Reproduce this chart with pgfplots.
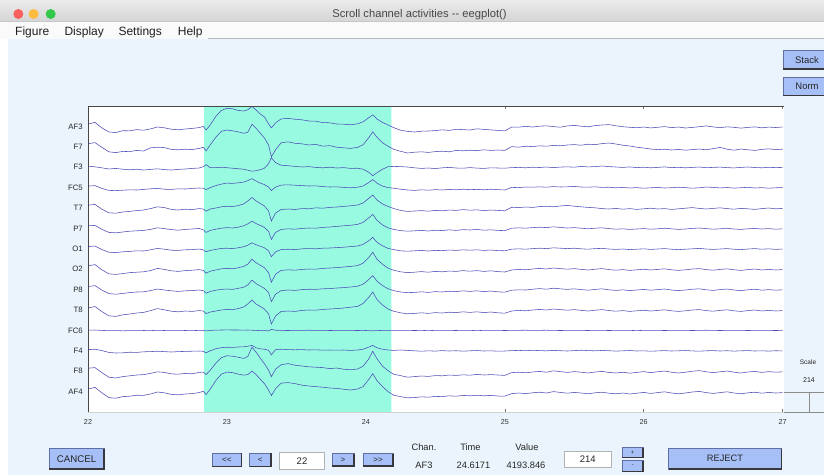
\documentclass[border=0pt]{standalone}
\usepackage{fontspec}
\setmainfont{Liberation Sans}
\usepackage{pgfplots}
\usepackage{pgfplotstable}
\pgfplotsset{compat=1.18}

\definecolor{figbg}{RGB}{235,244,253}
\definecolor{tbtop}{RGB}{236,235,236}
\definecolor{tbbot}{RGB}{213,212,213}
\definecolor{menubg}{RGB}{250,250,250}
\definecolor{hlc}{RGB}{152,250,225}
\definecolor{trc}{RGB}{78,74,182}
\definecolor{btnc}{RGB}{166,191,247}
\definecolor{btnb}{RGB}{95,110,165}
\definecolor{btns}{RGB}{55,55,60}
\definecolor{tlred}{RGB}{252,96,92}
\definecolor{tlyel}{RGB}{253,188,64}
\definecolor{tlgrn}{RGB}{52,200,74}

% channel offsets in screen pixels (positive = up), one row per channel
\pgfplotstableread[header=false]{
t 22.00 22.05 22.10 22.15 22.20 22.25 22.30 22.35 22.40 22.45 22.50 22.55 22.60 22.65 22.70 22.75 22.80 22.83 22.85 22.88 22.92 22.96 23.00 23.04 23.08 23.12 23.15 23.18 23.21 23.24 23.27 23.30 23.32 23.35 23.39 23.44 23.49 23.54 23.59 23.64 23.69 23.74 23.79 23.84 23.89 23.94 23.98 24.02 24.05 24.08 24.12 24.16 24.20 24.25 24.30 24.35 24.40 24.45 24.50 24.55 24.60 24.65 24.70 24.75 24.80 24.85 24.90 24.95 25.00 25.05 25.10 25.15 25.20 25.25 25.30 25.35 25.40 25.45 25.50 25.55 25.60 25.65 25.70 25.75 25.80 25.85 25.90 25.95 26.00 26.05 26.10 26.15 26.20 26.25 26.30 26.35 26.40 26.45 26.50 26.55 26.60 26.65 26.70 26.75 26.80 26.85 26.90 26.95 27.00
AF3 2.4 4.0 -1.5 -5.5 -6.2 -4.3 -4.4 -3.2 -3.8 -2.5 -0.6 -1.4 -2.8 -3.4 -2.6 -2.0 -1.2 0.0 -3.6 1.4 10.0 16.0 18.2 17.6 16.0 15.4 16.6 20.0 16.4 12.5 9.5 2.5 -1.5 3.5 7.5 8.0 7.2 6.6 5.4 5.2 3.8 3.6 2.4 2.2 1.6 2.6 4.6 8.6 11.5 7.4 4.0 1.4 -1.2 -3.8 -5.0 -5.6 -4.8 -4.6 -4.2 -3.4 -4.0 -2.9 -3.2 -3.6 -2.4 -3.0 -3.5 -4.0 -4.5 -0.6 -0.8 0.1 -0.6 0.2 0.6 -0.2 -0.8 0.5 1.0 0.2 -0.4 0.8 1.4 1.8 0.6 -0.3 -0.9 -1.3 -0.6 -1.5 -0.9 -0.2 -1.2 -0.6 -1.6 -1.0 -0.3 0.5 -0.5 -1.3 -0.4 -0.9 -1.7 -1.0 -0.5 -1.4 -0.7 -1.1 -0.6
F7 3.0 4.2 -0.5 -5.0 -5.8 -4.6 -4.8 -3.6 -4.2 -1.0 -0.4 -0.8 -2.6 -3.0 -2.4 -2.8 -1.6 -0.5 -4.0 2.0 9.5 15.5 16.8 16.0 15.0 13.5 14.5 22.5 18.5 13.8 8.8 1.8 -10.0 -3.0 4.0 5.0 3.5 3.0 1.8 2.5 0.6 1.2 -0.4 -1.0 -1.6 -0.6 2.0 9.0 15.0 9.5 4.0 0.5 -2.5 -4.5 -6.2 -5.4 -5.0 -5.6 -4.8 -4.4 -5.0 -3.6 -4.0 -3.4 -3.8 -3.0 -3.6 -3.2 -3.6 0.2 -0.4 0.6 0.2 1.0 0.6 1.4 1.0 1.8 2.2 1.6 2.6 2.2 3.2 3.8 2.8 1.6 0.8 -0.4 -1.2 -2.2 -2.8 -2.4 -3.2 -2.6 -3.4 -2.8 -2.2 -3.0 -1.8 -0.6 -2.4 -3.4 -2.2 -3.0 -3.6 -2.6 -2.0 -2.8 -2.4
F3 1.0 0.4 -0.6 -1.8 -1.2 -2.0 -2.6 -2.0 -2.8 -2.2 -1.6 -2.4 -2.8 -2.2 -1.8 -1.2 -0.8 0.5 2.5 -0.5 -0.5 0.0 -0.5 -1.0 -1.5 -2.0 -3.0 -4.0 -3.5 -2.5 -1.0 3.5 9.5 4.5 2.0 1.5 0.8 0.2 0.6 -0.2 -0.6 0.0 -0.8 -0.4 -1.2 -1.0 -2.0 -5.0 -8.5 -5.5 -2.0 0.5 0.8 0.6 0.2 -0.6 -1.2 -0.8 -1.4 -0.6 -0.2 -0.8 -1.0 -0.4 -0.9 -1.2 -0.6 -0.8 -1.0 -0.4 -0.2 -0.6 0.0 -0.3 0.2 -0.4 0.1 0.4 0.0 0.8 0.3 0.6 1.2 0.6 0.2 -0.2 0.3 -0.4 0.0 -0.6 -0.2 0.3 -0.4 -0.1 -0.6 -0.2 0.2 -0.5 -0.2 0.1 -0.4 -0.7 -0.2 0.2 -0.3 -0.6 -0.1 -0.4 -0.2
FC5 1.5 2.0 -0.8 -2.8 -3.0 -2.6 -2.2 -2.4 -1.8 -1.2 -0.8 -1.6 -1.8 -1.2 -1.4 -0.8 -0.4 -0.5 -2.0 0.0 2.0 3.5 4.5 4.2 4.8 5.5 7.0 9.0 6.5 4.5 3.0 0.5 -3.0 0.5 2.5 2.8 2.4 2.0 1.6 1.8 1.0 0.6 0.8 0.2 -0.2 0.4 1.6 5.0 8.0 4.5 1.5 0.0 -0.6 -1.6 -2.4 -2.8 -2.2 -2.6 -2.0 -2.4 -1.8 -2.2 -1.6 -2.0 -1.8 -2.2 -1.6 -2.0 -2.4 0.2 0.0 0.6 0.4 0.8 0.4 1.0 0.6 0.8 1.2 0.6 0.4 0.8 0.2 0.4 -0.2 0.2 -0.4 0.0 -0.6 -0.2 0.2 -0.4 -0.1 0.4 0.0 -0.6 -0.2 0.6 0.2 -0.3 0.1 -0.5 -0.1 0.3 -0.4 0.0 -0.6 -0.2 0.1
T7 2.8 3.6 -1.2 -4.8 -5.2 -4.0 -3.4 -2.6 -2.0 -0.6 1.2 0.4 -1.4 -2.0 -1.2 -1.6 -0.6 -1.0 -3.2 -1.0 0.0 1.2 1.8 1.4 2.4 4.0 7.0 10.5 7.0 4.5 2.0 -3.0 -13.0 -5.0 -1.5 -1.0 -1.5 -0.6 -0.8 0.2 -0.2 0.6 1.0 1.6 2.2 3.0 5.0 9.5 13.0 8.0 4.0 1.5 -0.5 -2.4 -3.4 -3.0 -2.6 -3.2 -2.4 -2.8 -2.0 -2.4 -1.6 -2.2 -1.8 -2.6 -2.0 -2.4 -2.8 0.8 0.4 1.0 0.6 1.4 1.8 1.2 2.0 2.6 1.8 1.2 0.6 0.2 -0.6 -1.0 -0.4 -1.2 -0.6 -1.4 -0.8 -0.2 -1.0 -0.6 -1.4 -0.8 -0.2 0.4 -0.4 -1.0 -0.4 0.2 -0.6 -1.2 -0.4 -0.8 -1.4 -0.6 0.0 -0.8 -0.4
P7 2.6 3.0 -1.0 -4.0 -4.4 -3.6 -2.8 -2.4 -2.0 -1.0 0.6 -0.2 -1.2 -1.8 -1.0 -0.6 0.0 -1.5 -4.0 -2.0 -0.8 0.2 0.8 0.4 1.2 2.6 4.5 7.2 4.8 3.0 1.0 -3.0 -11.0 -4.0 -1.0 -0.4 -0.8 0.0 0.4 0.2 1.0 1.4 2.0 2.6 3.2 4.0 6.0 10.5 14.0 8.0 3.5 0.5 -1.0 -2.2 -2.8 -2.4 -2.0 -2.6 -1.8 -2.2 -1.4 -2.0 -1.2 -1.6 -1.0 -1.8 -1.4 -2.0 -2.2 0.2 0.6 0.2 0.8 1.2 0.8 1.6 1.0 0.4 0.8 0.2 -0.4 0.2 0.6 -0.2 -0.8 -0.4 -1.0 -0.6 -0.2 -0.8 -0.4 0.2 -0.4 -1.0 -0.6 0.0 0.4 -0.2 -0.8 -0.4 0.2 -0.6 -1.0 -0.4 0.0 -0.6 -0.2 -0.8 -0.4
O1 2.2 2.8 -0.8 -3.4 -3.8 -3.0 -2.6 -2.0 -2.2 -1.0 0.4 -0.4 -1.4 -1.6 -1.0 -0.8 -0.2 -1.0 -3.0 -1.6 -0.6 0.4 0.6 0.2 1.0 2.0 3.6 6.0 4.0 2.6 1.0 -2.0 -8.0 -3.0 -0.8 -0.4 -0.8 0.0 0.2 0.0 0.6 0.8 1.2 1.6 2.2 2.8 4.4 8.0 11.5 6.5 3.0 0.4 -0.8 -2.0 -2.4 -2.0 -1.6 -2.2 -1.6 -1.8 -1.2 -1.6 -1.0 -1.4 -1.0 -1.6 -1.2 -1.8 -2.0 -0.4 0.0 -0.4 0.2 0.6 0.2 1.0 0.6 0.2 0.6 0.0 -0.4 0.2 0.4 -0.2 -0.6 -0.2 -0.8 -0.4 0.0 -0.6 -0.2 0.2 -0.4 -0.8 -0.4 0.0 0.4 -0.2 -0.6 -0.2 0.2 -0.4 -0.8 -0.2 0.2 -0.4 0.0 -0.6 -0.2
O2 3.4 4.6 -0.6 -4.6 -5.2 -4.4 -3.4 -3.0 -2.6 -1.4 0.8 -0.2 -1.6 -2.2 -1.4 -1.0 -0.4 -1.2 -4.0 -2.0 -0.8 0.4 0.8 0.4 1.4 2.8 5.0 10.0 6.5 4.0 1.5 -3.5 -13.0 -5.0 -1.2 -0.6 -1.0 -0.2 0.2 0.0 0.8 1.2 1.6 2.2 2.8 3.6 6.0 11.5 17.0 10.0 5.0 1.0 -1.0 -2.6 -3.4 -3.0 -2.4 -3.0 -2.2 -2.6 -1.8 -2.2 -1.4 -2.0 -1.4 -2.2 -1.6 -2.4 -2.8 -0.8 -0.2 -0.6 0.2 0.8 0.2 1.2 0.6 0.0 0.6 -0.2 -0.8 0.0 0.6 -0.4 -1.0 -0.4 -1.2 -0.6 0.0 -0.8 -0.2 0.4 -0.6 -1.2 -0.6 0.2 0.6 -0.4 -1.0 -0.2 0.4 -0.6 -1.2 -0.4 0.2 -0.8 -0.2 -0.8 -0.4
P8 3.0 4.0 -0.4 -4.0 -4.6 -3.8 -3.0 -2.4 -2.2 -1.0 0.6 -0.4 -1.2 -1.8 -1.2 -1.0 -0.4 -1.0 -3.6 -1.8 -0.6 0.2 0.6 0.2 1.2 2.4 4.6 9.5 6.0 3.6 1.2 -3.0 -12.0 -4.5 -1.0 -0.4 -0.8 0.0 0.4 0.2 0.8 1.0 1.6 2.0 2.6 3.4 5.4 10.0 14.0 8.5 4.0 0.8 -1.0 -2.4 -3.0 -2.8 -2.2 -2.8 -2.0 -2.4 -1.6 -2.0 -1.2 -1.8 -1.2 -2.0 -1.4 -2.2 -2.6 -0.6 -0.2 -0.4 0.4 1.0 0.4 1.4 0.8 0.2 0.8 0.0 -0.6 0.2 0.8 -0.2 -0.8 -0.2 -1.0 -0.4 0.2 -0.6 0.0 0.6 -0.4 -1.0 -0.4 0.4 0.8 -0.2 -0.8 0.0 0.6 -0.4 -1.0 -0.2 0.4 -0.6 0.0 -0.6 -0.2
T8 2.0 3.5 -1.6 -5.8 -6.4 -4.8 -4.0 -3.0 -2.4 -0.6 1.4 0.2 -1.2 -1.8 -1.0 -1.4 -0.6 -1.0 -3.6 -2.0 -1.0 0.0 0.6 0.2 1.4 3.0 6.0 10.0 6.0 3.5 1.0 -4.0 -14.0 -6.0 -1.5 -1.0 -1.4 -0.4 0.0 -0.2 0.6 1.0 1.4 2.0 2.8 3.6 6.5 12.5 18.0 10.5 5.0 1.0 -1.2 -2.8 -3.8 -3.4 -2.8 -3.4 -2.6 -3.0 -2.2 -2.6 -1.8 -2.4 -1.8 -2.6 -2.0 -2.8 -3.2 -1.0 -0.4 -0.8 0.0 0.6 0.0 1.0 0.4 -0.2 0.4 -0.4 -1.0 -0.2 0.4 -0.6 -1.2 -0.6 -1.4 -0.8 -0.2 -1.0 -0.4 0.2 -0.8 -1.4 -0.8 0.0 0.4 -0.6 -1.2 -0.4 0.2 -0.8 -1.4 -0.6 0.0 -1.0 -0.4 -1.0 -0.6
FC6 0.2 0.4 0.0 -0.3 -0.2 -0.4 -0.2 -0.3 -0.1 -0.2 0.1 -0.1 -0.3 -0.2 -0.1 -0.2 0.0 0.0 -0.5 0.0 0.3 0.4 0.5 0.4 0.4 0.3 0.4 0.2 0.0 -0.2 -0.3 -0.4 1.0 0.2 0.0 -0.1 0.1 0.0 0.2 0.0 0.1 -0.1 0.0 0.1 0.0 -0.1 0.0 -0.2 -0.4 -0.2 0.0 0.1 0.0 0.1 0.0 -0.1 0.0 -0.2 0.0 0.1 0.0 -0.1 0.1 0.0 -0.2 0.0 0.1 0.0 -0.1 0.0 0.1 0.2 0.0 0.1 0.2 0.0 -0.1 0.0 0.1 0.0 -0.1 0.1 0.0 -0.1 0.0 0.1 0.0 -0.2 0.0 0.1 0.0 -0.1 0.0 0.1 0.0 -0.1 0.0 0.2 0.0 -0.1 0.0 0.1 0.0 -0.1 0.0 0.1 0.0 -0.1 0.0
F4 1.2 1.6 0.2 -1.6 -2.2 -2.0 -1.4 -1.6 -1.0 -0.8 -0.4 -0.8 -1.2 -0.8 -0.6 -0.4 -0.2 -0.5 -2.0 0.0 2.0 3.2 3.6 3.4 3.8 4.0 4.6 5.4 3.0 2.0 1.6 0.6 -4.0 1.2 1.6 1.2 1.0 1.2 0.8 1.0 0.6 0.8 0.6 0.8 0.4 0.8 1.6 3.6 5.4 3.0 1.6 0.8 0.4 0.8 0.4 0.0 -0.4 0.0 -0.3 0.2 -0.2 0.1 -0.4 0.0 0.3 -0.2 0.0 -0.4 -0.2 0.2 0.4 0.1 0.5 0.2 0.0 0.4 0.1 -0.2 0.2 0.6 0.2 0.0 0.4 0.1 -0.3 0.0 0.3 -0.2 0.0 -0.4 -0.1 0.2 -0.2 0.0 0.3 -0.1 -0.4 0.0 0.2 -0.2 0.1 -0.3 0.0 0.2 -0.2 0.0 -0.3 0.1 -0.1
F8 3.0 3.6 -1.4 -6.0 -6.8 -5.4 -4.6 -3.8 -3.4 -2.2 -0.6 -1.2 -2.6 -3.0 -2.2 -2.6 -1.2 -0.8 -3.4 1.0 8.0 13.5 15.5 15.0 14.0 12.8 14.6 24.0 19.0 13.0 7.5 1.0 -5.5 2.0 6.5 7.6 6.0 5.2 4.4 4.0 3.6 2.6 3.2 2.0 1.4 2.2 5.0 12.0 20.0 12.5 5.0 0.5 -3.0 -4.4 -6.0 -5.4 -4.8 -5.2 -4.4 -4.6 -3.8 -4.2 -3.6 -4.0 -3.2 -3.8 -3.4 -3.8 -4.2 -1.4 -1.0 -1.6 -0.8 -0.2 -1.0 0.4 -0.4 -1.2 -0.4 -1.0 -1.8 -0.8 -0.2 -1.2 -1.8 -1.0 -2.0 -1.2 -0.4 -1.4 -0.6 0.2 -1.0 -1.8 -1.0 0.0 0.6 -0.6 -1.4 -0.6 0.2 -1.0 -1.8 -0.8 -0.2 -1.2 -0.4 -1.0 -0.6
AF4 2.6 4.2 -1.2 -6.0 -6.6 -5.0 -4.6 -3.6 -3.8 -2.4 -0.4 -1.2 -2.8 -3.2 -2.4 -2.0 -1.0 0.4 -3.0 2.5 11.0 17.5 19.5 19.0 17.5 16.5 17.0 20.5 17.0 12.5 8.0 1.5 -4.0 3.0 8.5 9.0 8.0 6.4 5.6 5.0 4.4 3.6 3.2 2.4 1.6 2.6 5.0 12.0 18.0 11.0 5.0 0.0 -3.6 -5.0 -6.2 -6.0 -5.2 -5.6 -4.8 -5.0 -4.2 -4.6 -3.8 -4.2 -3.6 -4.2 -3.8 -4.4 -4.6 -2.0 -1.4 -2.0 -1.2 -0.6 -1.4 0.0 -0.8 -1.6 -0.8 -1.4 -2.2 -1.2 -0.6 -1.6 -2.2 -1.4 -2.4 -1.6 -0.8 -1.8 -1.0 -0.2 -1.4 -2.2 -1.4 -0.4 0.2 -1.0 -1.8 -1.0 -0.2 -1.4 -2.2 -1.2 -0.6 -1.6 -0.8 -1.4 -1.0
}\eegraw
\pgfplotstabletranspose[colnames from=0]{\eeg}{\eegraw}

\newcommand\uibtn[6]{%
  \fill[btnc] (#1,#2) rectangle (#3,#4);
  \draw[btnb, line width=0.6pt] (#1,#2) rectangle (#3,#4);
  \draw[btns, line width=1.2pt] (#1,#4) -- (#3,#4) -- (#3,#2);
  \node[inner sep=0pt, font=\fontsize{#5}{#5}\selectfont, text=black!85] at ({(#1+#3)/2},{(#2+#4)/2}) {#6};}
\newcommand\uitxt[5]{%
  \fill[white] (#1,#2) rectangle (#3,#4);
  \draw[black!30, line width=0.5pt] (#1,#2) rectangle (#3,#4);
  \node[inner sep=0pt, font=\fontsize{9.5}{9.5}\selectfont, text=black!85] at ({(#1+#3)/2},{(#2+#4)/2}) {#5};}

\begin{document}
\begin{tikzpicture}
\useasboundingbox (0pt,0pt) rectangle (824pt,-475pt);
\begin{scope}[x=1pt,y=-1pt]
  \clip (0,0) rectangle (824,475);
  \fill[figbg] (0,0) rectangle (824,475);
  \fill[white] (0,38.5) rectangle (8.3,475);
  % title bar
  \shade[top color=tbtop, bottom color=tbbot] (0,0) rectangle (824,21.7);
  \draw[black!22, line width=0.5pt] (0,21.7) -- (824,21.7);
  \fill[tlred] (18.3,14) circle[radius=5pt];
  \fill[tlyel] (33.6,14) circle[radius=5pt];
  \fill[tlgrn] (50.7,14) circle[radius=5pt];
  \node[anchor=base, inner sep=0pt, font=\fontsize{11.2}{13}\selectfont, text=black!72] at (419.5,17.7) {Scroll channel activities -{}- eegplot()};
  % menu bar
  \fill[menubg] (0,22) rectangle (824,38.5);
  \draw[black!28, line width=0.7pt] (208,38.5) -- (824,38.5);
  \begin{scope}[every node/.style={anchor=base west, inner sep=0pt, font=\fontsize{12}{14}\selectfont, text=black!88}]
    \node at (15,35.5) {Figure};
    \node at (64.3,35.5) {Display};
    \node at (118.3,35.5) {Settings};
    \node at (177.7,35.5) {Help};
  \end{scope}
\end{scope}

\begin{axis}[name=ax, at={(88pt,-412pt)}, anchor=south west,
  width=696pt, height=306pt, scale only axis,
  xmin=22, xmax=27.01, ymin=0, ymax=15,
  axis background/.style={fill=white},
  separate axis lines, axis line style={draw=none},
  xtick={22,23,24,25,26,27}, xticklabels={22,23,24,25,26,27},
  ytick={1,...,14},
  yticklabels={AF4,F8,F4,FC6,T8,P8,O2,O1,P7,T7,FC5,F3,F7,AF3},
  tick align=inside, major tick length=3pt,
  xtick style={draw=black!55, line width=0.5pt},
  ytick style={draw=none},
  xticklabel style={font=\fontsize{7.2}{8}\selectfont, text=black!80, inner sep=0pt, yshift=-7pt},
  yticklabel style={font=\fontsize{7.8}{9}\selectfont, text=black!85, inner sep=0pt, xshift=-5pt},
  /pgf/number format/assume math mode=true,
  every axis plot/.append style={line width=0.55pt},
]
\addplot[draw=none, fill=hlc] coordinates {(22.835,0) (22.835,15) (24.183,15) (24.183,0)} \closedcycle;
\addplot[trc] table[x=t, y expr=\thisrow{AF3}/20.4+14] {\eeg};
\addplot[trc] table[x=t, y expr=\thisrow{F7}/20.4+13] {\eeg};
\addplot[trc] table[x=t, y expr=\thisrow{F3}/20.4+12] {\eeg};
\addplot[trc] table[x=t, y expr=\thisrow{FC5}/20.4+11] {\eeg};
\addplot[trc] table[x=t, y expr=\thisrow{T7}/20.4+10] {\eeg};
\addplot[trc] table[x=t, y expr=\thisrow{P7}/20.4+9] {\eeg};
\addplot[trc] table[x=t, y expr=\thisrow{O1}/20.4+8] {\eeg};
\addplot[trc] table[x=t, y expr=\thisrow{O2}/20.4+7] {\eeg};
\addplot[trc] table[x=t, y expr=\thisrow{P8}/20.4+6] {\eeg};
\addplot[trc] table[x=t, y expr=\thisrow{T8}/20.4+5] {\eeg};
\addplot[trc] table[x=t, y expr=\thisrow{FC6}/20.4+4] {\eeg};
\addplot[trc] table[x=t, y expr=\thisrow{F4}/20.4+3] {\eeg};
\addplot[trc] table[x=t, y expr=\thisrow{F8}/20.4+2] {\eeg};
\addplot[trc] table[x=t, y expr=\thisrow{AF4}/20.4+1] {\eeg};
\end{axis}
\draw[black!72, line width=0.9pt] (ax.south west) -- (ax.north west) -- (ax.north east);
\draw[black!18, line width=0.6pt] (ax.south west) -- (ax.south east);

\begin{scope}[x=1pt,y=-1pt]
  % right-hand buttons
  \uibtn{783}{50.5}{831}{69}{9.5}{Stack}
  \uibtn{783}{77}{831}{95.5}{9.5}{Norm}
  % scale
  \node[inner sep=0pt, font=\fontsize{6.5}{7}\selectfont, text=black!85] at (808,362) {Scale};
  \node[inner sep=0pt, font=\fontsize{7}{8}\selectfont, text=black!85] at (809,380) {214};
  \draw[black!45, line width=0.7pt] (784,392.7) -- (824,392.7);
  \draw[black!45, line width=0.7pt] (809,392.7) -- (809,412.7);
  \draw[black!45, line width=0.7pt] (784,412.7) -- (824,412.7);
  % bottom controls
  \uibtn{49}{448.5}{104}{469}{9.7}{CANCEL}
  \uibtn{212}{453}{241.5}{466.5}{8}{<{}<}
  \uibtn{249.5}{453}{271}{466.5}{8}{<}
  \uitxt{279.5}{452.5}{324.5}{469}{22}
  \uibtn{332}{453.5}{354}{466}{8}{>}
  \uibtn{363}{453.5}{393}{466}{8}{>{}>}
  \begin{scope}[every node/.style={anchor=base, inner sep=0pt, font=\fontsize{9.3}{10}\selectfont, text=black!85}]
    \node at (424,450.5) {Chan.};
    \node at (424,468.5) {AF3};
    \node at (470.5,450.5) {Time};
    \node at (473.5,468.5) {24.6171};
    \node at (527,450.5) {Value};
    \node at (526,468.5) {4193.846};
  \end{scope}
  \uitxt{564.5}{451}{611}{467.5}{214}
  \uibtn{622}{447.5}{643}{457.5}{6}{+}
  \uibtn{622}{460.5}{643}{471.5}{6}{-}
  \uibtn{668.5}{448.5}{781.5}{469}{9.3}{REJECT}
\end{scope}
\end{tikzpicture}
\end{document}
